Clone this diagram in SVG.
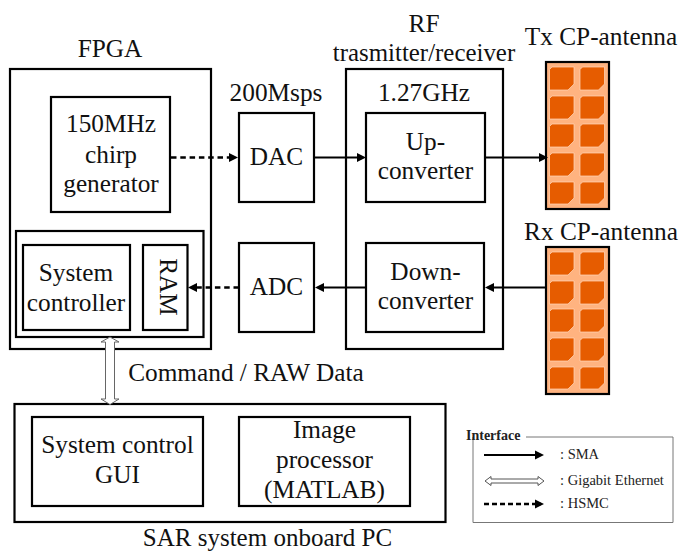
<svg xmlns="http://www.w3.org/2000/svg" xmlns:xlink="http://www.w3.org/1999/xlink" width="679" height="551" viewBox="0 0 679 551">
<style>
.b{fill:#fff;stroke:#000;stroke-width:2.2}
text{font-family:"Liberation Serif",serif;font-size:25.300px;fill:#111;text-anchor:middle}
.c{fill:none;stroke:#000;stroke-width:2.200}
.d{stroke-width:2.600;stroke-dasharray:5.500 3.800}
.p{fill:#e65c00;stroke:#ffd9bd;stroke-width:.7}
.a{fill:#ffb380;stroke:#000;stroke-width:2.2}
.l{font-size:14.500px;text-anchor:start;fill:#222}
.e{fill:#fff;stroke:#555;stroke-width:1}
</style>
<defs>
<marker id="ah" markerUnits="userSpaceOnUse" markerWidth="10" markerHeight="10" refX="6" refY="5" orient="auto"><path d="M0 0.500L9 5L0 9.500z" fill="#000"/></marker>
<g id="ant">
<rect class="a" x="546" y="62" width="63" height="147"/>
<path class="p" d="M552 67H574V84L568 90H549.500V69.500z"/>
<path class="p" d="M582.500 67H604.500V84L598.500 90H580V69.500z"/>
<path class="p" d="M552 96H574V113L568 119H549.500V98.500z"/>
<path class="p" d="M582.500 96H604.500V113L598.500 119H580V98.500z"/>
<path class="p" d="M552 124H574V141L568 147H549.500V126.500z"/>
<path class="p" d="M582.500 124H604.500V141L598.500 147H580V126.500z"/>
<path class="p" d="M552 153H574V170L568 176H549.500V155.500z"/>
<path class="p" d="M582.500 153H604.500V170L598.500 176H580V155.500z"/>
<path class="p" d="M552 182H574V198L568 204H549.500V184.500z"/>
<path class="p" d="M582.500 182H604.500V198L598.500 204H580V184.500z"/>
</g>
</defs>

<g id="fpga"><rect class="b" x="10" y="69" width="201" height="280"/><text x="110" y="57">FPGA</text></g>
<g id="chirp"><rect class="b" x="51" y="97" width="119" height="115"/><text x="111" y="132">150MHz</text><text x="111" y="163">chirp</text><text x="111" y="192">generator</text></g>
<g id="ctrlgroup"><rect class="b" x="16" y="231" width="187.500" height="106"/></g>
<g id="sysctrl"><rect class="b" x="23" y="245" width="107" height="85"/><text x="76" y="281">System</text><text x="76" y="311">controller</text></g>
<g id="ram"><rect class="b" x="143" y="245" width="44.500" height="85"/><text transform="translate(160 287) rotate(90)">RAM</text></g>
<g id="dac"><rect class="b" x="239" y="113" width="75" height="89"/><text x="276" y="101">200Msps</text><text x="276.500" y="165">DAC</text></g>
<g id="adc"><rect class="b" x="239" y="243" width="75" height="89"/><text x="276.500" y="295">ADC</text></g>
<g id="rf"><rect class="b" x="346" y="69" width="157" height="280"/><text x="424" y="32">RF</text><text x="424" y="61" style="font-size:24.900px">trasmitter/receiver</text><text x="424" y="101">1.27GHz</text></g>
<g id="up"><rect class="b" x="366" y="113" width="119" height="89"/><text x="425.500" y="150">Up-</text><text x="425.500" y="179">converter</text></g>
<g id="down"><rect class="b" x="366" y="243" width="118" height="89"/><text x="425.500" y="280">Down-</text><text x="425.500" y="309">converter</text></g>
<g id="tx"><use xlink:href="#ant" href="#ant"/><text x="601" y="45">Tx CP-antenna</text></g>
<g id="rx"><use xlink:href="#ant" href="#ant" y="185"/><text x="601" y="240">Rx CP-antenna</text></g>
<g id="pc"><rect class="b" x="14.500" y="404" width="431" height="118"/><text x="267.500" y="546" style="font-size:25px">SAR system onboard PC</text></g>
<g id="gui"><rect class="b" x="32" y="417" width="171" height="89"/><text x="117.500" y="453">System control</text><text x="117.500" y="483">GUI</text></g>
<g id="imgproc"><rect class="b" x="239" y="417" width="171" height="89"/><text x="324.500" y="438">Image</text><text x="324.500" y="468">processor</text><text x="324.500" y="498">(MATLAB)</text></g>

<g id="connectors">
<path class="c d" d="M171 157.500H235" marker-end="url(#ah)"/>
<path class="c" d="M314 157.500H363" marker-end="url(#ah)"/>
<path class="c" d="M485 157.500H545" marker-end="url(#ah)"/>
<path class="c" d="M546 287.500H488" marker-end="url(#ah)"/>
<path class="c" d="M366 287.500H318" marker-end="url(#ah)"/>
<path class="c d" d="M239 287.500H191" marker-end="url(#ah)"/>
<path d="M110 337L119 342H114.500V399H119L110 404.500L101 399H105.500V342H101z" fill="#fff" stroke="#666" stroke-width="1"/>
<text x="246" y="381">Command / RAW Data</text>
</g>

<g id="legend">
<path d="M526 437H673V522.500H473V437" fill="none" stroke="#777" stroke-width="1"/>
<text class="l" x="466" y="440" style="font-weight:bold;font-size:14px">Interface</text>
<path class="c" d="M484 455H541" marker-end="url(#ah)"/>
<path d="M485 481L491 476.500V479H538V476.500L544 481L538 485.500V483H491V485.500z" class="e"/>
<path class="c d" d="M484 504H541" style="stroke-dasharray:5 3" marker-end="url(#ah)"/>
<text class="l" x="560" y="459">: SMA</text>
<text class="l" x="560" y="485">: Gigabit Ethernet</text>
<text class="l" x="560" y="508">: HSMC</text>
</g>
</svg>
